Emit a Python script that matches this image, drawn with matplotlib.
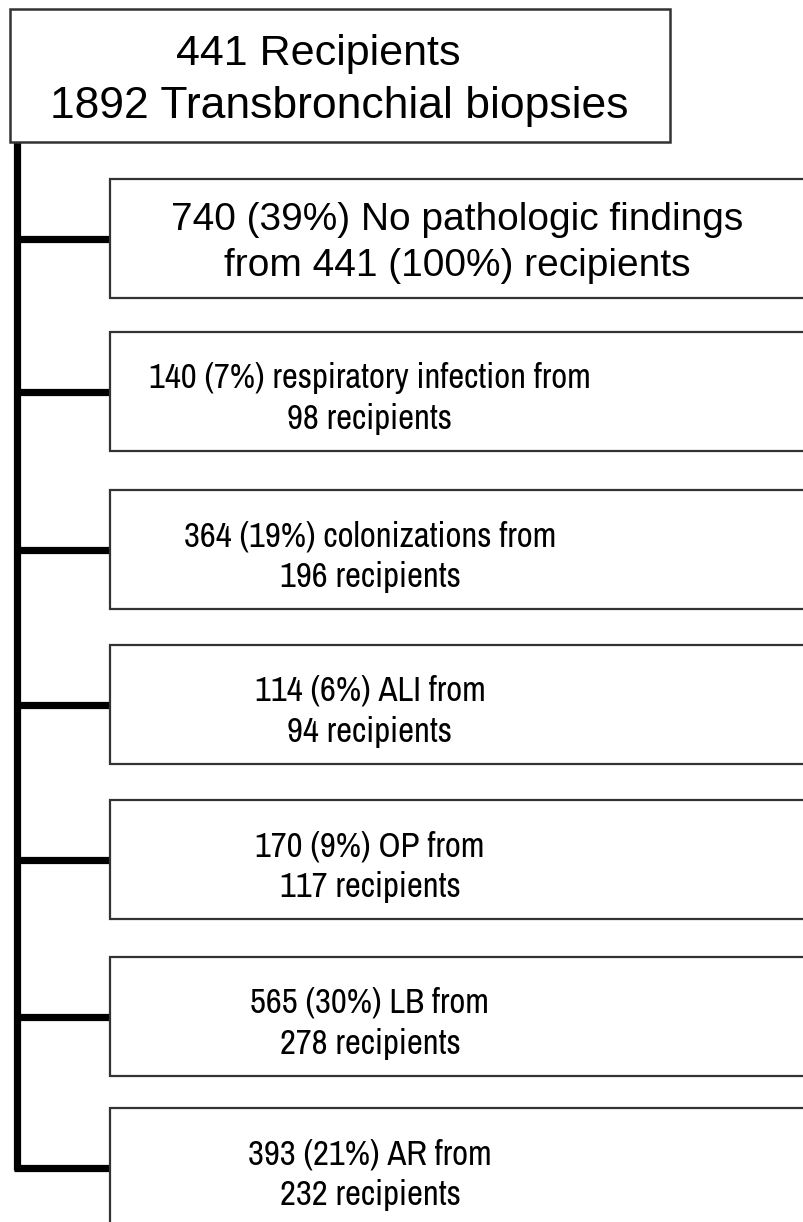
import matplotlib
matplotlib.use("Agg")
import matplotlib.pyplot as plt
from matplotlib.patches import Rectangle

# flow chart content
top_lines = ["441 Recipients", "1892 Transbronchial biopsies"]
findings = ["No pathologic findings", "respiratory infection", "colonizations",
            "ALI", "OP", "LB", "AR"]
biopsies = [740, 140, 364, 114, 170, 565, 393]
percents = [39, 7, 19, 6, 9, 30, 21]
recipients = [441, 98, 196, 94, 117, 278, 232]

# layout in pixels (figure is 804 x 1222)
box_tops = [179, 332, 490, 645, 800, 957, 1108]
box_h = 119
box_left = 110
spine_x = 17

regular = ["Liberation Sans", "DejaVu Sans"]
condensed = ["Archivo Narrow", "Liberation Sans", "DejaVu Sans"]

fig = plt.figure(figsize=(8.04, 12.22), dpi=100)
ax = fig.add_axes([0, 0, 1, 1])
ax.set_xlim(0, 804)
ax.set_ylim(1222, 0)
ax.axis("off")

edge = "#333333"

# top box
ax.add_patch(Rectangle((10, 9), 660, 133, facecolor="white", edgecolor=edge, lw=1.8, zorder=3))
ax.text(318, 65, top_lines[0], ha="center", va="baseline", fontsize=31,
        family=regular, zorder=4)
ax.text(339, 118, top_lines[1], ha="center", va="baseline", fontsize=32,
        family=regular, zorder=4)

# vertical spine
last_mid = box_tops[-1] + 59
ax.plot([spine_x, spine_x], [142, last_mid + 3], color="black", lw=5.2,
        solid_capstyle="butt", zorder=2)

for i, top in enumerate(box_tops):
    mid = top + box_h / 2
    ax.plot([spine_x - 2.5, box_left], [mid, mid], color="black", lw=5.2,
            solid_capstyle="butt", zorder=2)
    ax.add_patch(Rectangle((box_left, top), 720, box_h, facecolor="white",
                           edgecolor=edge, lw=1.6, zorder=3))
    if i == 0:
        line1 = f"{biopsies[i]} ({percents[i]}%) {findings[i]}"
        line2 = f"from {recipients[i]} (100%) recipients"
        cx, fam, fs = 457, regular, 28
        b1, b2 = top + 51, top + 97
    else:
        line1 = f"{biopsies[i]} ({percents[i]}%) {findings[i]} from"
        line2 = f"{recipients[i]} recipients"
        cx, fam, fs = 370, condensed, 25
        b1, b2 = top + 56, top + 97
    ax.text(cx, b1, line1, ha="center", va="baseline", fontsize=fs, family=fam, zorder=4)
    ax.text(cx, b2, line2, ha="center", va="baseline", fontsize=fs, family=fam, zorder=4)

fig.savefig("out.png", dpi=100)
